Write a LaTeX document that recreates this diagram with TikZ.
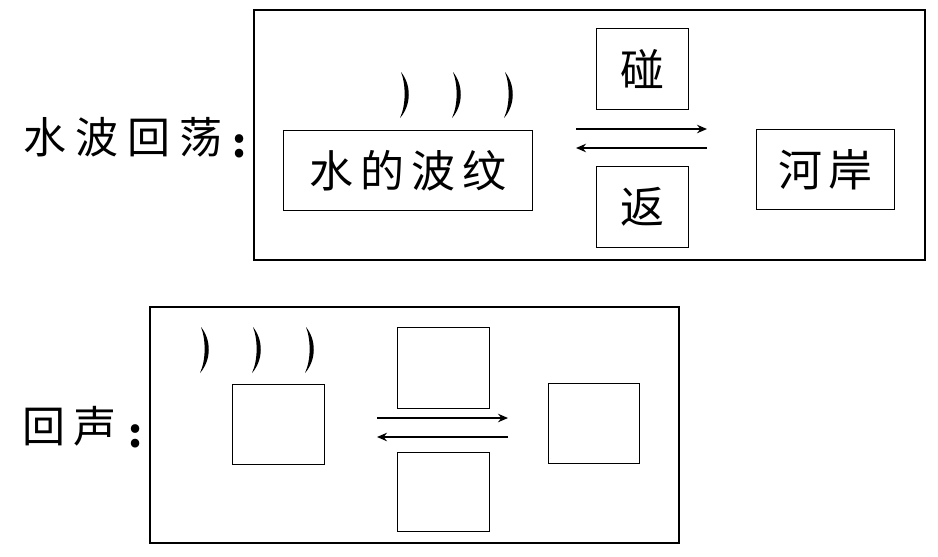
\documentclass[tikz,border=0pt]{standalone}
\usepackage{fontspec}
\newfontfamily\cjk{Noto Sans CJK SC}
\usetikzlibrary{arrows.meta}
\tikzset{
  frame/.style={draw, line width=1.2pt},
  box/.style={draw, line width=1.1pt, inner sep=0pt, anchor=north west, font=\cjk\fontsize{44}{48}\selectfont},
  lab/.style={font=\cjk\fontsize{43}{46}\selectfont, inner sep=0pt},
  colon/.style={font=\cjk\bfseries\fontsize{40}{46}\selectfont, inner sep=0pt},
  rarrow/.style={line width=1.4pt, -{Stealth[length=10pt,width=8.5pt]}},
  wavearc/.pic={\fill (0,-23) .. controls (10.5,-10) and (10.5,10) .. (-1,23) .. controls (5,10) and (5,-10) .. (0,-23);}
}
\newcommand{\gp}{\hspace{9pt}}
\begin{document}
\begin{tikzpicture}[x=1pt,y=-1pt]
\useasboundingbox[fill=white] (0,0) rectangle (938,557);
% top
\draw[frame] (254,10) rectangle (925,260);
\node[lab] (lab1) at (123,137) {水\gp 波\gp 回\gp 荡};
\node[colon] (col1) at (240,146) {:};
\node[box, minimum width=249pt, minimum height=80pt] (wave1) at (283,130) {水\hspace{7pt}的\hspace{7pt}波\hspace{7pt}纹};
\node[box, minimum width=92pt, minimum height=81pt] (peng) at (596,28) {碰};
\node[box, minimum width=92pt, minimum height=81pt] (fan) at (596,166) {返};
\node[box, minimum width=138pt, minimum height=80pt] (an) at (756,129) {河\hspace{6pt}岸};
\coordinate (a1s) at (576,129);
\coordinate (a1e) at (707,129);
\coordinate (b1s) at (707,148);
\coordinate (b1e) at (576,148);
\draw[rarrow] (a1s) -- (a1e);
\draw[rarrow] (b1s) -- (b1e);
\pic at (401,95) {wavearc};
\pic at (453,95) {wavearc};
\pic at (505,95) {wavearc};
% bottom
\draw[frame] (150,307) rectangle (679,543);
\node[lab] (lab2) at (70,426) {回\hspace{8pt}声};
\node[colon] (col2) at (136,436) {:};
\node[box, minimum width=92pt, minimum height=80pt] (e1) at (232,384) {};
\node[box, minimum width=92pt, minimum height=81pt] (e2) at (397,327) {};
\node[box, minimum width=92pt, minimum height=79pt] (e3) at (397,452) {};
\node[box, minimum width=91pt, minimum height=80pt] (e4) at (548,383) {};
\coordinate (a2s) at (377,418);
\coordinate (a2e) at (508,418);
\coordinate (b2s) at (508,437);
\coordinate (b2e) at (377,437);
\draw[rarrow] (a2s) -- (a2e);
\draw[rarrow] (b2s) -- (b2e);
\pic at (201,350) {wavearc};
\pic at (253,350) {wavearc};
\pic at (306,350) {wavearc};
\end{tikzpicture}
\end{document}
